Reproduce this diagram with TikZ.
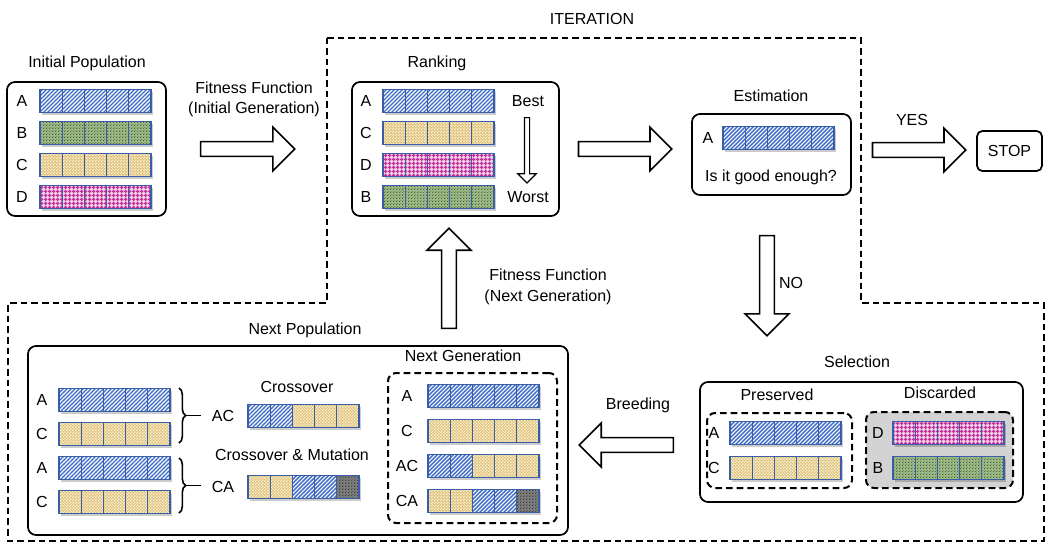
\documentclass[tikz,border=0pt]{standalone}
\usepackage{fontspec}
\setmainfont{Liberation Sans}
\usetikzlibrary{patterns,shapes.arrows,decorations.pathreplacing,fit}

\definecolor{barcol}{HTML}{3A5DA8}
\definecolor{Afg}{HTML}{3F6CC8}
\definecolor{Abg}{HTML}{FFFFFF}
\definecolor{Bbg}{HTML}{A3BB8A}
\definecolor{Bfg}{HTML}{2F5E2A}
\definecolor{Cbg}{HTML}{DDBE6E}
\definecolor{Cfg}{HTML}{FFF8E8}
\definecolor{Dbg}{HTML}{F4D2EA}
\definecolor{Dfg}{HTML}{C2309A}
\definecolor{Mbg}{HTML}{808080}
\definecolor{Mfg}{HTML}{333333}
\definecolor{discard}{HTML}{D3D3D3}

\pgfdeclarepatternformonly{nestripes}{\pgfqpoint{-1pt}{-1pt}}{\pgfqpoint{4pt}{4pt}}{\pgfqpoint{3pt}{3pt}}{%
  \pgfsetlinewidth{1.05pt}%
  \pgfpathmoveto{\pgfqpoint{0pt}{0pt}}%
  \pgfpathlineto{\pgfqpoint{3.1pt}{3.1pt}}%
  \pgfusepath{stroke}}
\pgfdeclarepatternformonly{plaid}{\pgfqpoint{0pt}{0pt}}{\pgfqpoint{3pt}{3pt}}{\pgfqpoint{3pt}{3pt}}{%
  \pgfpathrectangle{\pgfqpoint{1.1pt}{0pt}}{\pgfqpoint{0.8pt}{3pt}}%
  \pgfpathrectangle{\pgfqpoint{0pt}{1.1pt}}{\pgfqpoint{3pt}{0.8pt}}%
  \pgfpathrectangle{\pgfqpoint{0.6pt}{0.6pt}}{\pgfqpoint{1.8pt}{1.8pt}}%
  \pgfusepath{fill}}
\pgfdeclarepatternformonly{finedots}{\pgfqpoint{0pt}{0pt}}{\pgfqpoint{2pt}{2pt}}{\pgfqpoint{2pt}{2pt}}{%
  \pgfpathcircle{\pgfqpoint{0.5pt}{0.5pt}}{0.5pt}%
  \pgfpathcircle{\pgfqpoint{1.5pt}{1.5pt}}{0.4pt}%
  \pgfusepath{fill}}
\pgfdeclarepatternformonly{whitedots}{\pgfqpoint{0pt}{0pt}}{\pgfqpoint{2.4pt}{2.4pt}}{\pgfqpoint{2.4pt}{2.4pt}}{%
  \pgfpathcircle{\pgfqpoint{0.6pt}{0.6pt}}{0.8pt}%
  \pgfpathcircle{\pgfqpoint{1.8pt}{1.8pt}}{0.8pt}%
  \pgfusepath{fill}}

\newcommand\chromo[3]{%
  \fill[black,opacity=.2] (#1+1.5,#2-9.5) rectangle (#1+113,#2+13.5);
  \foreach \t [count=\i from 0] in {#3}{
    \path[celltype/.expanded=\t] ({#1+\i*22.2},{#2-11.5}) rectangle ++(22.2,23);
  }
  \foreach \i in {0,...,4}{
    \draw[barline] ({#1+\i*22.2},{#2-11.5}) rectangle ++(22.2,23);
  }
}

\begin{document}
\begin{tikzpicture}[x=0.75pt,y=-0.75pt,
  txt/.style={font=\fontsize{12}{14}\selectfont, inner sep=0pt, anchor=center},
  box/.style={draw, line width=1.3pt, rounded corners=6pt, inner sep=0pt},
  dbox/.style={draw, line width=1.5pt, dash pattern=on 5pt off 3pt, rounded corners=6pt, inner sep=0pt},
  bigarrow/.style={single arrow, draw, fill=white, line width=1.2pt, inner sep=4.9pt,
    minimum width=31.5pt, single arrow head extend=10.9pt, single arrow head indent=0pt},
  barline/.style={draw=barcol, line width=0.9pt},
  cellA/.style={fill=Abg, postaction={pattern=nestripes, pattern color=Afg}},
  cellB/.style={fill=Bbg, postaction={pattern=finedots, pattern color=Bfg}},
  cellC/.style={fill=Cbg, postaction={pattern=whitedots, pattern color=Cfg}},
  cellD/.style={fill=Dbg, postaction={pattern=plaid, pattern color=Dfg}},
  cellM/.style={fill=Mbg, postaction={pattern=finedots, pattern color=Mfg}},
  celltype/.style={cell#1},
  bracestyle/.style={line width=1.2pt, decorate, decoration={brace, amplitude=5pt}}
]
\useasboundingbox (0,0) rectangle (1052,544);

% iteration boundary
\node[txt] (iter) at (592,19) {ITERATION};
\draw[line width=1.5pt, dash pattern=on 5pt off 3pt]
  (327,38) -- (861,38) -- (861,303) -- (1044,303) -- (1044,541) -- (8,541) -- (8,303) -- (327,303) -- cycle;

% boxes
\node[txt] (tinit) at (87,63) {Initial Population};
\node[box, fit={(7,82) (166,216)}] (initpop) {};
\node[txt] (trank) at (437,63) {Ranking};
\node[box, fit={(352,82) (559,216)}] (ranking) {};
\node[txt] (test) at (771,96) {Estimation};
\node[box, fit={(692,114) (851,195)}] (estim) {};
\node[box, rounded corners=4pt, fit={(977,131) (1042,171)}] (stop) {};
\node[txt] at (stop.center) {STOP};
\node[txt] (tnextpop) at (305,330) {Next Population};
\node[box, fit={(28,346) (568,535)}] (nextpop) {};
\node[txt] (tnextgen) at (463,356) {Next Generation};
\node[dbox, fit={(388,373) (557,523)}] (nextgen) {};
\node[txt] (tsel) at (857,362) {Selection};
\node[box, fit={(700,382) (1023,502)}] (selection) {};
\node[txt] (tpres) at (777,395) {Preserved};
\node[dbox, fit={(707,413) (852,488)}] (preserved) {};
\node[txt] (tdisc) at (940,393) {Discarded};
\node[dbox, fill=discard, fit={(866,412) (1013,488)}] (discarded) {};

% initial population
\node[txt] (i1) at (22,101) {A}; \chromo{40}{101}{A,A,A,A,A}
\node[txt] (i2) at (22,133) {B}; \chromo{40}{133}{B,B,B,B,B}
\node[txt] (i3) at (22,165) {C}; \chromo{40}{165}{C,C,C,C,C}
\node[txt] (i4) at (22,197) {D}; \chromo{40}{197}{D,D,D,D,D}

% ranking
\node[txt] (r1) at (366,101) {A}; \chromo{383}{101}{A,A,A,A,A}
\node[txt] (r2) at (366,133) {C}; \chromo{383}{133}{C,C,C,C,C}
\node[txt] (r3) at (366,165) {D}; \chromo{383}{165}{D,D,D,D,D}
\node[txt] (r4) at (366,197) {B}; \chromo{383}{197}{B,B,B,B,B}
\node[txt] (best) at (528,101) {Best};
\node[txt] (worst) at (528,197) {Worst};
\node[single arrow, draw, line width=0.9pt, inner sep=1.5pt, minimum width=12.75pt,
  single arrow head extend=4.9pt, single arrow head indent=0pt, minimum height=49pt,
  shape border rotate=270] (bw) at (527,149) {};

% estimation
\node[txt] (e1) at (708,138) {A}; \chromo{723}{138}{A,A,A,A,A}
\node[txt] (good) at (771,177) {Is it good enough?};

% next population
\node[txt] (n1) at (42,400) {A}; \chromo{59}{400}{A,A,A,A,A}
\node[txt] (n2) at (42,434) {C}; \chromo{59}{434}{C,C,C,C,C}
\node[txt] (n3) at (42,468) {A}; \chromo{59}{468}{A,A,A,A,A}
\node[txt] (n4) at (42,502) {C}; \chromo{59}{502}{C,C,C,C,C}
\draw[bracestyle] (179,388) -- (179,443);
\draw[bracestyle] (179,458) -- (179,513);
\coordinate (b1) at (185.7,415.5);
\coordinate (b2) at (185.7,485.5);
\node[txt] (tcross) at (297,387) {Crossover};
\node[txt] (ac) at (223,416) {AC}; \chromo{248}{416}{A,A,C,C,C}
\node[txt] (tcm) at (292,455) {Crossover \& Mutation};
\node[txt] (ca) at (223,487) {CA}; \chromo{248}{487}{C,C,A,A,M}
\draw[line width=1.2pt, shorten >=8pt] (b1) -- (b1 -| ac.west);
\draw[line width=1.2pt, shorten >=8pt] (b2) -- (b2 -| ca.west);

% next generation
\node[txt] (g1) at (407,396) {A}; \chromo{428}{396}{A,A,A,A,A}
\node[txt] (g2) at (407,431) {C}; \chromo{428}{431}{C,C,C,C,C}
\node[txt] (g3) at (407,466) {AC}; \chromo{428}{466}{A,A,C,C,C}
\node[txt] (g4) at (407,501) {CA}; \chromo{428}{501}{C,C,A,A,M}

% selection
\node[txt] (s1) at (714,433) {A}; \chromo{730}{433}{A,A,A,A,A}
\node[txt] (s2) at (714,468) {C}; \chromo{730}{468}{C,C,C,C,C}
\node[txt] (s3) at (878,433) {D}; \chromo{893}{433}{D,D,D,D,D}
\node[txt] (s4) at (878,468) {B}; \chromo{893}{468}{B,B,B,B,B}

% big arrows
\node[bigarrow, minimum height=70.5pt] (a1) at (244,149) {};
\node[txt] (ff1) at (254,88) {Fitness Function};
\node[txt] (ff1b) at (254,109) {(Initial Generation)};
\node[bigarrow, minimum height=70pt] (a2) at (621.5,149) {};
\node[bigarrow, minimum height=70pt] (a3) at (915.5,150) {};
\node[txt] (yes) at (912,120) {YES};
\node[bigarrow, minimum height=75pt, shape border rotate=270] (a4) at (767,282) {};
\node[txt] (no) at (791,283) {NO};
\node[bigarrow, minimum height=75pt, shape border rotate=90] (a5) at (449,282) {};
\node[txt] (ff2) at (548,275) {Fitness Function};
\node[txt] (ff2b) at (548,297) {(Next Generation)};
\node[bigarrow, minimum height=70.5pt, shape border rotate=180] (a6) at (630,445) {};
\node[txt] (breed) at (638,405) {Breeding};
\end{tikzpicture}
\end{document}
